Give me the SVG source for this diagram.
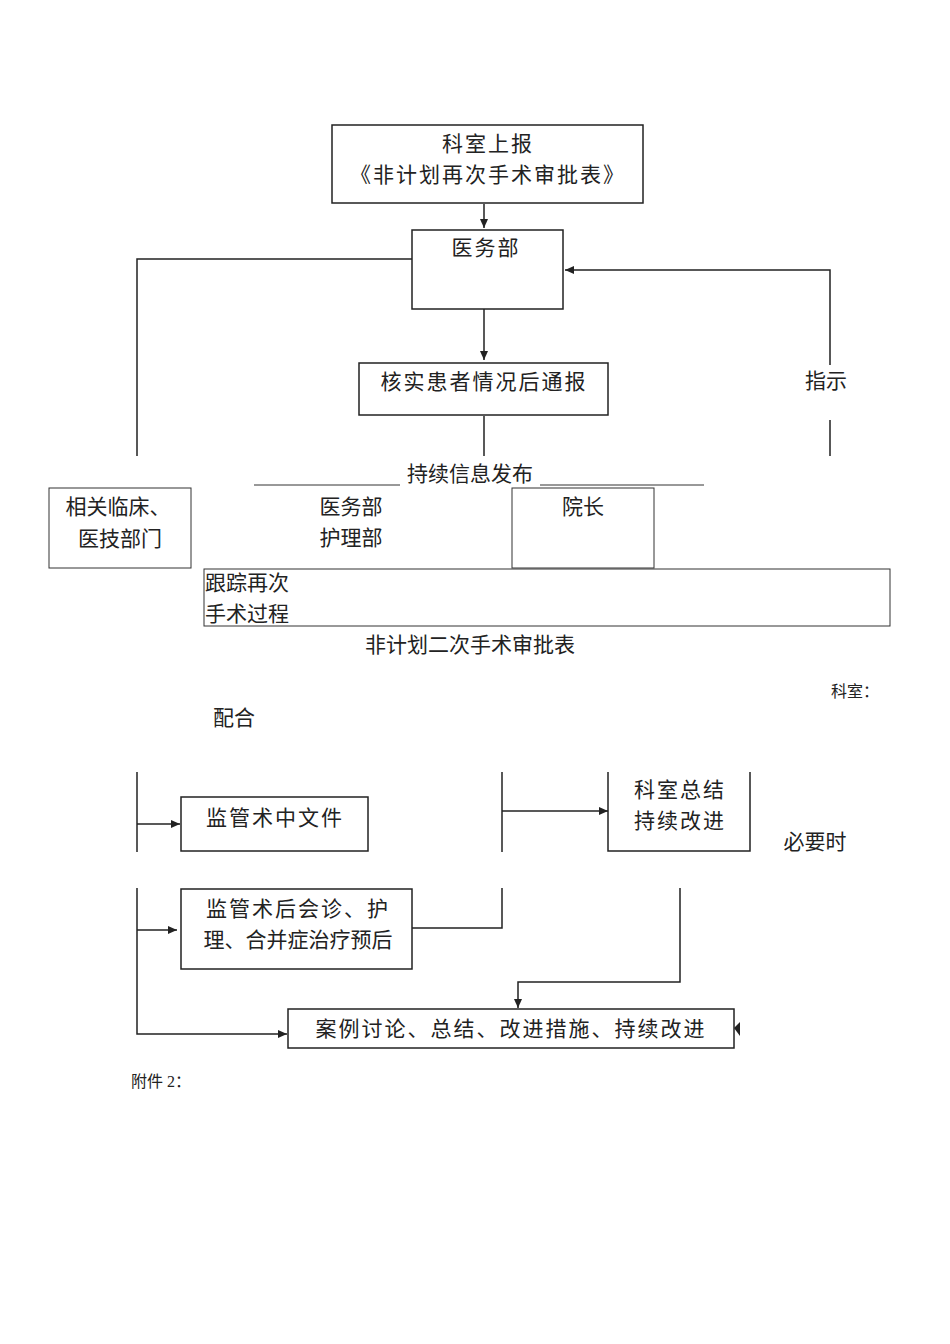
<svg xmlns="http://www.w3.org/2000/svg" width="950" height="1344" viewBox="0 0 950 1344">
<style>
text{font-family:"Noto Sans CJK SC","Liberation Serif",serif;fill:#222;font-size:21px}
.w{letter-spacing:2px}
.b{fill:#fff;stroke:#222;stroke-width:1.5}
.l{fill:none;stroke:#222;stroke-width:1.5}
.t{fill:none;stroke:#333;stroke-width:1}
.s{font-size:16px;font-family:"Liberation Serif","Noto Sans CJK SC",serif}
</style>
<defs><marker id="a" markerWidth="10" markerHeight="10" refX="9" refY="5" orient="auto" markerUnits="userSpaceOnUse"><path d="M0,1 L9,5 L0,9z" fill="#222"/></marker></defs>
<rect width="950" height="1344" fill="#fff"/>
<g id="connectors">
<path class="l" d="M484,204 V228" marker-end="url(#a)"/>
<path class="l" d="M484,309 V360" marker-end="url(#a)"/>
<path class="l" d="M412,259 H137 V456"/>
<path class="l" d="M830,456 V420 M830,365 V270 H565" marker-end="url(#a)"/>
<path class="l" d="M484,416 V456"/>
<path class="t" d="M254,485 H400 M540,485 H704"/>
<path class="l" d="M137,772 V852"/>
<path class="l" d="M137,824 H180" marker-end="url(#a)"/>
<path class="l" d="M137,888 V1034 H287" marker-end="url(#a)"/>
<path class="l" d="M137,930 H177" marker-end="url(#a)"/>
<path class="l" d="M502,772 V852"/>
<path class="l" d="M502,811 H608" marker-end="url(#a)"/>
<path class="l" d="M502,888 V928 H412"/>
<path class="l" d="M680,888 V982 H518 V1008" marker-end="url(#a)"/>
<path d="M734,1028 L740,1022 V1036z" fill="#222"/>
</g>
<g id="n1"><rect class="b" x="332" y="125" width="311" height="78"/><text class="w" x="488" y="151" text-anchor="middle">科室上报</text><text class="w" x="488" y="182" text-anchor="middle">《非计划再次手术审批表》</text></g>
<g id="n2"><rect class="b" x="412" y="230" width="151" height="79"/><text class="w" x="486" y="255" text-anchor="middle">医务部</text></g>
<g id="n3"><rect class="b" x="359" y="363" width="249" height="52"/><text class="w" x="484" y="389" text-anchor="middle">核实患者情况后通报</text></g>
<text x="826" y="388" text-anchor="middle">指示</text>
<text x="470" y="481" text-anchor="middle">持续信息发布</text>
<g id="n4"><rect class="t" x="49" y="488" width="142" height="80"/><text x="118" y="514" text-anchor="middle" font-size="19">相关临床、</text><text x="120" y="546" text-anchor="middle" font-size="19">医技部门</text></g>
<g id="n5"><text x="351" y="514" text-anchor="middle" font-size="19">医务部</text><text x="351" y="545" text-anchor="middle" font-size="19">护理部</text></g>
<g id="n6"><rect class="t" x="512" y="488" width="142" height="80"/><text x="583" y="514" text-anchor="middle" font-size="19">院长</text></g>
<g id="n7"><rect class="t" x="204" y="569" width="686" height="57"/><text x="205" y="590" font-size="19">跟踪再次</text><text x="205" y="621" font-size="19">手术过程</text></g>
<text x="470" y="652" text-anchor="middle" font-size="23">非计划二次手术审批表</text>
<text x="855" y="697" text-anchor="middle" class="s">科室：</text>
<text x="234" y="725" text-anchor="middle" font-size="19">配合</text>
<g id="n8"><rect class="b" x="181" y="797" width="187" height="54"/><text class="w" x="275" y="825" text-anchor="middle">监管术中文件</text></g>
<g id="n9"><path class="b" d="M608,772 V851 H750 V772"/><text class="w" x="680" y="797" text-anchor="middle">科室总结</text><text class="w" x="680" y="828" text-anchor="middle">持续改进</text></g>
<text x="815" y="849" text-anchor="middle" font-size="19">必要时</text>
<g id="n10"><rect class="b" x="181" y="889" width="231" height="80"/><text class="w" x="298" y="916" text-anchor="middle">监管术后会诊、护</text><text x="298" y="947" text-anchor="middle">理、合并症治疗预后</text></g>
<g id="n11"><rect class="b" x="288" y="1009" width="446" height="39"/><text class="w" x="511" y="1036" text-anchor="middle">案例讨论、总结、改进措施、持续改进</text></g>
<text x="131" y="1087" class="s">附件 2：</text>
</svg>
